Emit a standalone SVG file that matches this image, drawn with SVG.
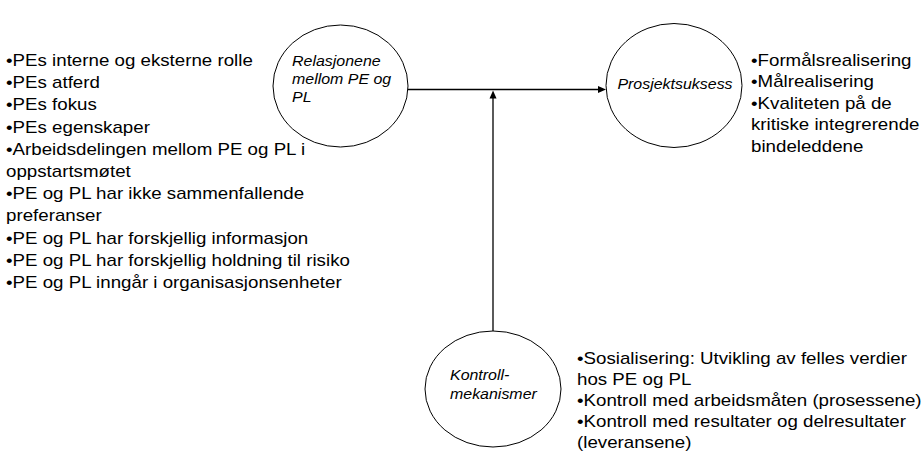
<svg xmlns="http://www.w3.org/2000/svg" width="923" height="459" viewBox="0 0 923 459">
<style>
.node ellipse { fill: #ffffff; stroke: #000000; stroke-width: 1; }
.lbl { font-family: "Liberation Sans", Arial, sans-serif; font-size: 14.5px; font-style: italic; fill: #000000; }
.list { font-family: "Liberation Sans", Arial, sans-serif; font-size: 16px; fill: #000000; }
.conn { stroke: #000000; stroke-width: 1.3; fill: none; }
</style>
<defs>
<marker id="arr" markerUnits="userSpaceOnUse" markerWidth="10" markerHeight="10" refX="2" refY="4" orient="auto">
<path d="M0,0.5 L8,4 L0,7.5 Z" fill="#000000"/>
</marker>
</defs>
<rect width="923" height="459" fill="#ffffff"/>
<g id="connectors">
<line class="conn" x1="408" y1="89.5" x2="600" y2="89.5" marker-end="url(#arr)"/>
<line class="conn" x1="493" y1="331" x2="493" y2="96.5" marker-end="url(#arr)"/>
</g>
<g id="node-relasjonene" class="node">
<ellipse cx="340.5" cy="86" rx="67.5" ry="61"/>
<text class="lbl" transform="translate(292,65.5) scale(1.1,1)"><tspan x="0" y="0">Relasjonene</tspan><tspan x="0" y="18.5">mellom PE og</tspan><tspan x="0" y="37">PL</tspan></text>
</g>
<g id="node-prosjektsuksess" class="node">
<ellipse cx="674" cy="85.5" rx="68" ry="62"/>
<text class="lbl" text-anchor="middle" transform="translate(675,88.5) scale(1.1,1)"><tspan x="0" y="0">Prosjektsuksess</tspan></text>
</g>
<g id="node-kontroll" class="node">
<ellipse cx="493" cy="389" rx="68" ry="58"/>
<text class="lbl" transform="translate(450,380) scale(1.1,1)"><tspan x="0" y="0">Kontroll-</tspan><tspan x="0" y="19">mekanismer</tspan></text>
</g>
<g id="list-left">
<text class="list" transform="translate(6,66) scale(1.17,1)">
<tspan x="0" y="0">•PEs interne og eksterne rolle</tspan>
<tspan x="0" y="22.2">•PEs atferd</tspan>
<tspan x="0" y="44.4">•PEs fokus</tspan>
<tspan x="0" y="66.6">•PEs egenskaper</tspan>
<tspan x="0" y="88.8">•Arbeidsdelingen mellom PE og PL i</tspan>
<tspan x="0" y="111">oppstartsmøtet</tspan>
<tspan x="0" y="133.2">•PE og PL har ikke sammenfallende</tspan>
<tspan x="0" y="155.4">preferanser</tspan>
<tspan x="0" y="177.6">•PE og PL har forskjellig informasjon</tspan>
<tspan x="0" y="199.8">•PE og PL har forskjellig holdning til risiko</tspan>
<tspan x="0" y="222">•PE og PL inngår i organisasjonsenheter</tspan>
</text>
</g>
<g id="list-right">
<text class="list" transform="translate(751,66) scale(1.17,1)">
<tspan x="0" y="0">•Formålsrealisering</tspan>
<tspan x="0" y="21.5">•Målrealisering</tspan>
<tspan x="0" y="43">•Kvaliteten på de</tspan>
<tspan x="0" y="64.5">kritiske integrerende</tspan>
<tspan x="0" y="86">bindeleddene</tspan>
</text>
</g>
<g id="list-bottom">
<text class="list" transform="translate(577,364) scale(1.17,1)">
<tspan x="0" y="0">•Sosialisering: Utvikling av felles verdier</tspan>
<tspan x="0" y="21">hos PE og PL</tspan>
<tspan x="0" y="42">•Kontroll med arbeidsmåten (prosessene)</tspan>
<tspan x="0" y="63">•Kontroll med resultater og delresultater</tspan>
<tspan x="0" y="84">(leveransene)</tspan>
</text>
</g>
</svg>
